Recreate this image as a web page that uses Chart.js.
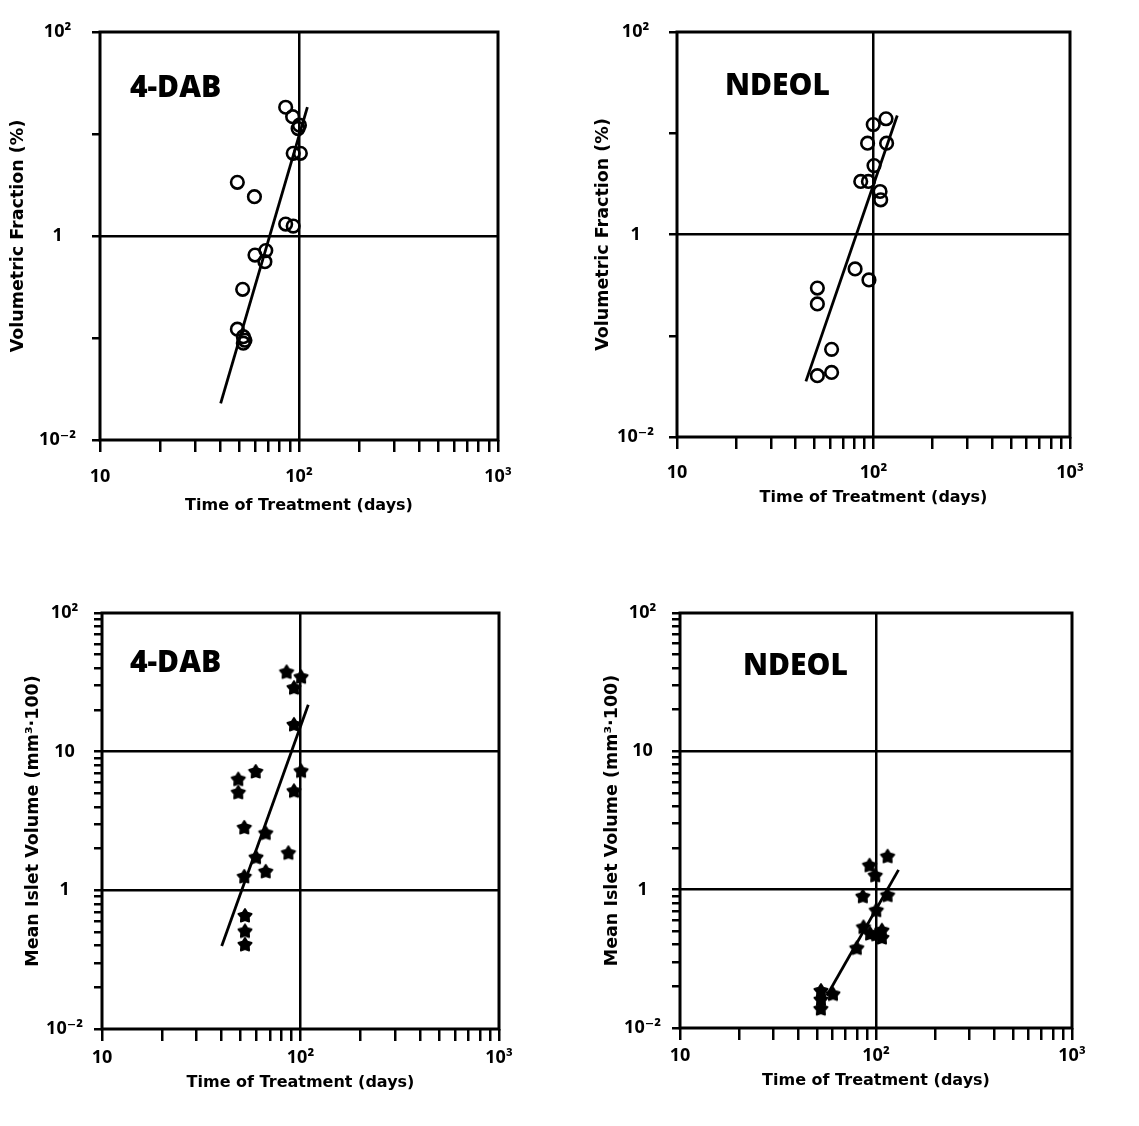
<!DOCTYPE html>
<html>
<head>
<meta charset="utf-8">
<script src="https://cdn.jsdelivr.net/npm/chart.js@4.4.1/dist/chart.umd.min.js"></script>
<style>
  html, body { margin: 0; padding: 0; background: #fff; }
  body { width: 1139px; height: 1126px; position: relative; overflow: hidden; }
  canvas { position: absolute; }
</style>
</head>
<body>
<canvas id="fracDab" width="570" height="520" style="left:0;top:0"></canvas>
<canvas id="fracNdeol" width="569" height="520" style="left:570px;top:0"></canvas>
<canvas id="volDab" width="570" height="566" style="left:0;top:560px"></canvas>
<canvas id="volNdeol" width="569" height="566" style="left:570px;top:560px"></canvas>
<script>
// Datos (días, valor)
// 4-DAB - fracción volumétrica (%)
const fracDabX = [85.7, 92.9, 100.5, 99, 93.5, 101.6, 49.0, 59.7, 85.7, 93.5, 60.1, 68.1, 67.4, 52.1, 49.0, 52.5, 52.5, 53.5];
const fracDabY = [18.3, 14.8, 12.2, 11.3, 6.47, 6.47, 3.36, 2.43, 1.31, 1.25, 0.65, 0.72, 0.56, 0.30, 0.122, 0.103, 0.089, 0.095];
const fracDabFitX = [40.4, 110.2];
const fracDabFitY = [0.0229, 18.3];

// NDEOL - fracción volumétrica (%)
const fracNdeolX = [99.7, 115.8, 93.3, 116.6, 100.6, 86.1, 94.2, 108.0, 108.8, 80.6, 94.8, 51.8, 51.8, 61.2, 51.8, 61.2];
const fracNdeolY = [12.2, 13.9, 7.98, 7.98, 4.79, 3.34, 3.34, 2.66, 2.20, 0.457, 0.356, 0.296, 0.206, 0.0734, 0.0403, 0.0434];
const fracNdeolFitX = [45.3, 132.1];
const fracNdeolFitY = [0.0354, 15.0];

// 4-DAB - volumen medio de islote
const volDabX = [85.1, 100.7, 92.7, 92.7, 100.7, 92.7, 59.5, 48.6, 48.6, 52.1, 66.8, 59.7, 66.8, 86.9, 52.1, 52.5, 52.5, 52.5];
const volDabY = [37.3, 34.4, 28.7, 15.6, 7.21, 5.18, 7.14, 6.29, 5.05, 2.82, 2.57, 1.72, 1.36, 1.85, 1.25, 0.653, 0.505, 0.404];
const volDabFitX = [40.1, 109.4];
const volDabFitY = [0.397, 21.8];

// NDEOL - volumen medio de islote
const volNdeolX = [114.6, 92.7, 99.1, 85.7, 114.6, 100.3, 86.3, 93.3, 100.3, 107.2, 107.2, 79.8, 52.4, 60.3, 52.3, 52.4];
const volNdeolY = [1.73, 1.49, 1.26, 0.889, 0.906, 0.705, 0.533, 0.478, 0.472, 0.505, 0.447, 0.376, 0.185, 0.175, 0.137, 0.16];
const volNdeolFitX = [56.1, 130.3];
const volNdeolFitY = [0.171, 1.39];

// Ticks de los ejes
const xTicks = [10, 20, 30, 40, 50, 60, 70, 80, 90, 100, 200, 300, 400, 500, 600, 700, 800, 900, 1000];
const xLabelValues = [10, 100, 1000];
const xLabelTexts = ['10', '10²', '10³'];
const xGrid = [100];

const fracYTicks = [0.01, 0.1, 1, 10, 100];
const fracLabelValues = [0.01, 1, 100];
const fracLabelTexts = ['10⁻²', '1', '10²'];
const fracGrid = [1];

const volYTicks = [0.1, 0.2, 0.3, 0.4, 0.5, 0.6, 0.7, 0.8, 0.9, 1, 2, 3, 4, 5, 6, 7, 8, 9, 10, 20, 30, 40, 50, 60, 70, 80, 90, 100];
const volLabelValues = [0.1, 1, 10, 100];
const volLabelTexts = ['10⁻²', '1', '10', '10²'];   // así aparece en la figura original
const volGrid = [10, 1];

Chart.defaults.font.family = '"Open Sans", "DejaVu Sans", sans-serif';
Chart.defaults.color = '#000';

const cerca = (a, b) => Math.abs(a - b) / b < 1e-6;

function etiqueta(valores, textos, v) {
  const k = valores.findIndex(t => cerca(t, v));
  return k >= 0 ? textos[k] : '';
}

// Marcador de estrella rellena (paneles inferiores)
function crearEstrella(r) {
  const c = document.createElement('canvas');
  const s = Math.ceil(r * 2 + 4);
  c.width = s; c.height = s;
  const g = c.getContext('2d');
  g.beginPath();
  for (let i = 0; i < 10; i++) {
    const rad = i % 2 === 0 ? r : r * 0.58;
    const ang = -Math.PI / 2 + i * Math.PI / 5;
    const px = s / 2 + rad * Math.cos(ang);
    const py = s / 2 + rad * Math.sin(ang);
    if (i === 0) g.moveTo(px, py); else g.lineTo(px, py);
  }
  g.closePath();
  g.fillStyle = '#000';
  g.fill();
  g.lineJoin = 'round';
  g.lineWidth = 1.8;
  g.strokeStyle = '#000';
  g.stroke();
  return c;
}
const estrella = crearEstrella(7);

// Marco del área de datos y rótulo del panel
const marcoPlugin = {
  id: 'marco',
  afterDatasetsDraw(chart, args, opts) {
    const { ctx, chartArea: a } = chart;
    ctx.save();
    ctx.strokeStyle = '#000';
    ctx.lineWidth = 3;
    ctx.strokeRect(a.left, a.top, a.right - a.left, a.bottom - a.top);
    ctx.font = '800 30px "Open Sans", "DejaVu Sans", sans-serif';
    ctx.fillStyle = '#000';
    ctx.textBaseline = 'alphabetic';
    ctx.fillText(opts.texto, a.left + opts.dx, a.top + opts.dy);
    ctx.restore();
  }
};

const fuenteTicks = { size: 18, weight: 'bold' };
const fuenteTituloX = { family: '"DejaVu Sans", sans-serif', size: 16, weight: 'bold' };
const fuenteTituloY = { family: '"DejaVu Sans", sans-serif', size: 17.5, weight: 'bold' };

function crearPanel(id, cfg) {
  const puntos = cfg.x.map((x, i) => ({ x: x, y: cfg.y[i] }));
  const ajuste = cfg.fitX.map((x, i) => ({ x: x, y: cfg.fitY[i] }));

  new Chart(document.getElementById(id), {
    type: 'scatter',
    data: {
      datasets: [
        {
          data: puntos,
          pointStyle: cfg.marcador,
          pointRadius: 6.3,
          borderColor: '#000',
          backgroundColor: 'rgba(0,0,0,0)',
          borderWidth: 2.6
        },
        {
          data: ajuste,
          showLine: true,
          pointRadius: 0,
          borderColor: '#000',
          borderWidth: 2.8
        }
      ]
    },
    options: {
      responsive: false,
      animation: false,
      layout: { padding: { top: cfg.top, right: cfg.right, left: 0, bottom: 0 } },
      plugins: {
        legend: { display: false },
        tooltip: { enabled: false },
        marco: { texto: cfg.texto, dx: cfg.dx, dy: cfg.dy }
      },
      scales: {
        x: {
          type: 'logarithmic',
          min: 10,
          max: 1000,
          afterBuildTicks: ax => { ax.ticks = xTicks.map(v => ({ value: v })); },
          afterFit: s => { s.height = cfg.altoX; },
          ticks: {
            autoSkip: false,
            maxRotation: 0,
            padding: cfg.padX,
            color: '#000',
            font: fuenteTicks,
            callback: v => etiqueta(xLabelValues, xLabelTexts, v)
          },
          grid: {
            color: c => (c.tick && xGrid.some(g => cerca(g, c.tick.value))) ? '#000' : 'rgba(0,0,0,0)',
            tickColor: '#000',
            tickLength: 12,
            lineWidth: 2.5
          },
          border: { display: false },
          title: {
            display: true,
            text: 'Time of Treatment (days)',
            color: '#000',
            font: fuenteTituloX,
            padding: { top: 0, bottom: cfg.tituloX }
          }
        },
        y: {
          type: 'logarithmic',
          min: cfg.yMin,
          max: 100,
          afterBuildTicks: ax => { ax.ticks = cfg.yTicks.map(v => ({ value: v })); },
          afterFit: s => { s.width = cfg.anchoY; },
          ticks: {
            autoSkip: false,
            crossAlign: 'center',
            padding: cfg.padY,
            color: '#000',
            font: fuenteTicks,
            callback: v => etiqueta(cfg.yLabelValues, cfg.yLabelTexts, v)
          },
          grid: {
            color: c => (c.tick && cfg.yGrid.some(g => cerca(g, c.tick.value))) ? '#000' : 'rgba(0,0,0,0)',
            tickColor: '#000',
            tickLength: 8,
            lineWidth: 2.5
          },
          border: { display: false },
          title: {
            display: true,
            text: cfg.tituloTexto,
            color: '#000',
            font: fuenteTituloY,
            padding: { top: cfg.tituloY, bottom: 0 }
          }
        }
      }
    },
    plugins: [marcoPlugin]
  });
}

// Paneles superiores: fracción volumétrica
crearPanel('fracDab', {
  x: fracDabX, y: fracDabY, fitX: fracDabFitX, fitY: fracDabFitY,
  marcador: 'circle', texto: '4-DAB', dx: 30, dy: 65,
  yMin: 0.01, yTicks: fracYTicks, yLabelValues: fracLabelValues, yLabelTexts: fracLabelTexts, yGrid: fracGrid,
  tituloTexto: 'Volumetric Fraction (%)',
  top: 32, right: 72, anchoY: 100, altoX: 80, padX: 14, padY: 16, tituloX: 5, tituloY: 8
});

crearPanel('fracNdeol', {
  x: fracNdeolX, y: fracNdeolY, fitX: fracNdeolFitX, fitY: fracNdeolFitY,
  marcador: 'circle', texto: 'NDEOL', dx: 48, dy: 63,
  yMin: 0.01, yTicks: fracYTicks, yLabelValues: fracLabelValues, yLabelTexts: fracLabelTexts, yGrid: fracGrid,
  tituloTexto: 'Volumetric Fraction (%)',
  top: 32, right: 69, anchoY: 107, altoX: 83, padX: 13, padY: 15, tituloX: 13, tituloY: 23
});

// Paneles inferiores: volumen medio de islote
crearPanel('volDab', {
  x: volDabX, y: volDabY, fitX: volDabFitX, fitY: volDabFitY,
  marcador: estrella, texto: '4-DAB', dx: 28, dy: 59,
  yMin: 0.1, yTicks: volYTicks, yLabelValues: volLabelValues, yLabelTexts: volLabelTexts, yGrid: volGrid,
  tituloTexto: 'Mean Islet Volume (mm³·100)',
  top: 53, right: 71, anchoY: 102, altoX: 97, padX: 6, padY: 11, tituloX: 34, tituloY: 23
});

crearPanel('volNdeol', {
  x: volNdeolX, y: volNdeolY, fitX: volNdeolFitX, fitY: volNdeolFitY,
  marcador: estrella, texto: 'NDEOL', dx: 63, dy: 62,
  yMin: 0.1, yTicks: volYTicks, yLabelValues: volLabelValues, yLabelTexts: volLabelTexts, yGrid: volGrid,
  tituloTexto: 'Mean Islet Volume (mm³·100)',
  top: 53, right: 67, anchoY: 110, altoX: 98, padX: 5, padY: 11, tituloX: 36, tituloY: 32
});
</script>
</body>
</html>
